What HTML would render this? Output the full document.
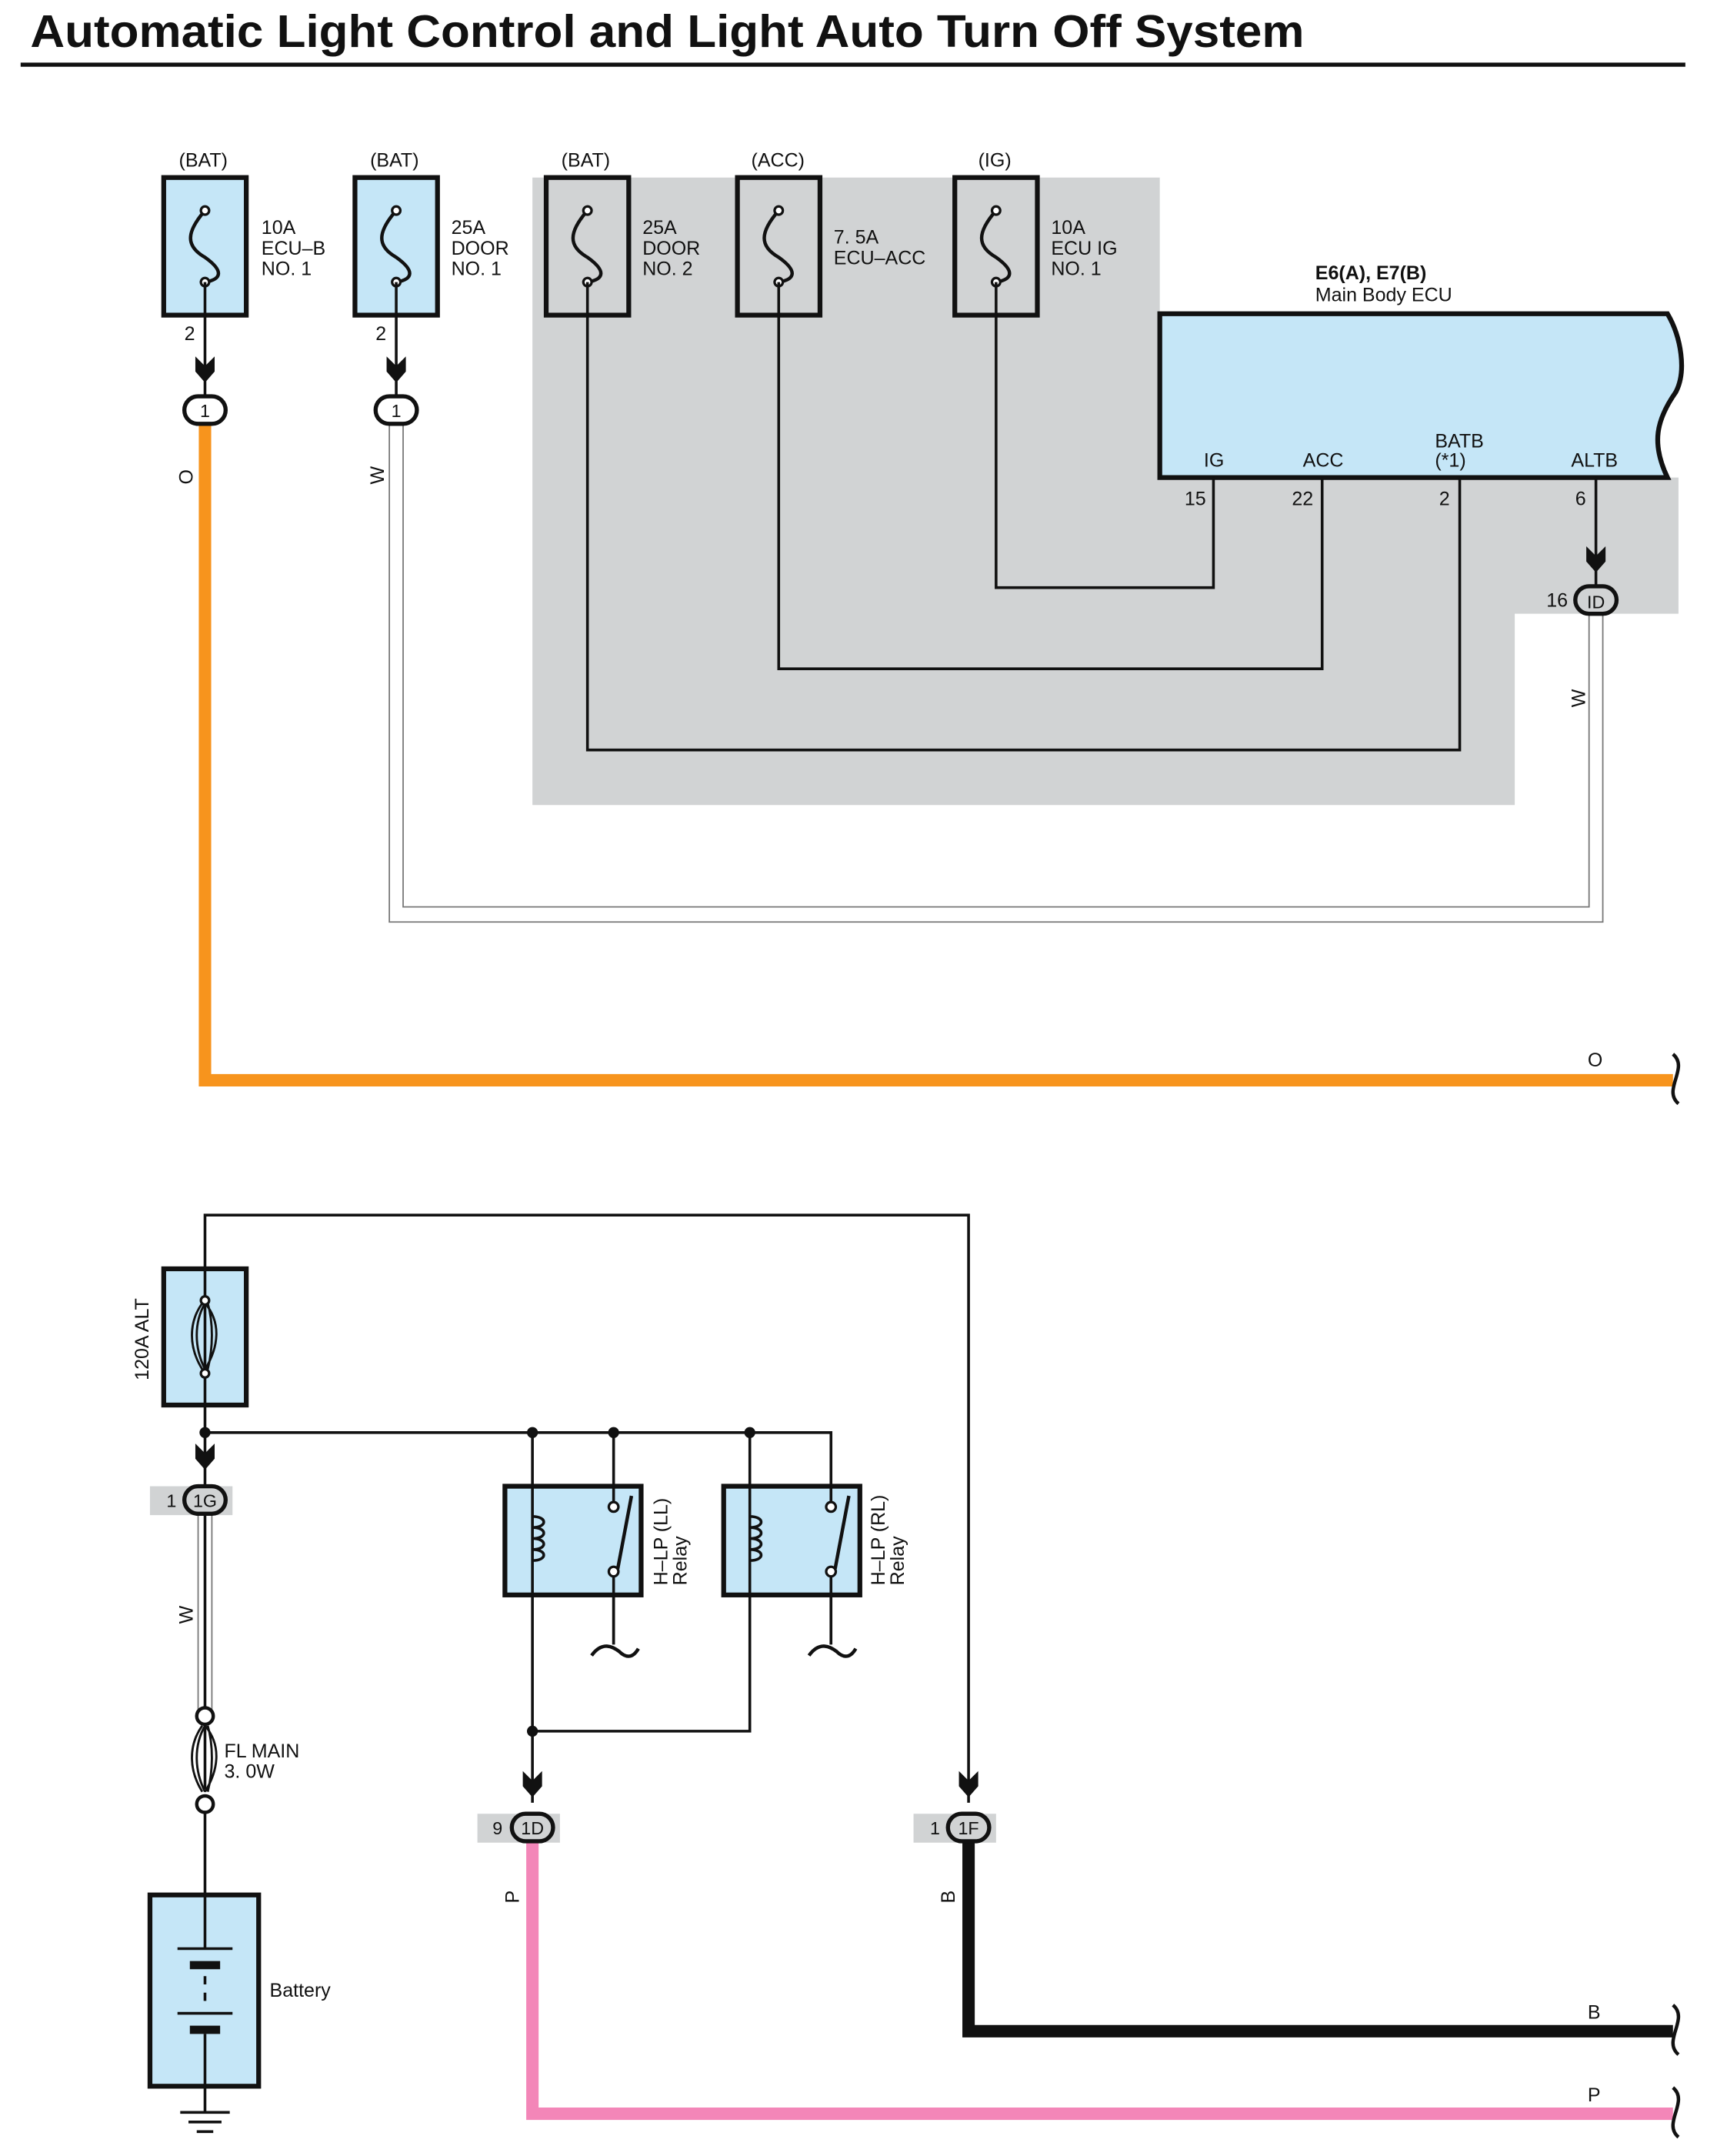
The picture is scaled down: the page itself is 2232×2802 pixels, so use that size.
<!DOCTYPE html>
<html><head><meta charset="utf-8"><style>
html,body{margin:0;padding:0;background:#fff;}
svg{display:block;}
text{font-family:"Liberation Sans",sans-serif;fill:#111;}
</style></head><body>
<svg width="2232" height="2802" viewBox="0 0 1248 1566.7" preserveAspectRatio="none" xmlns="http://www.w3.org/2000/svg">
<defs>
<g id="fs">
 <path d="M0,-24 C-14,-8 -14,2 0,10 C14,20 12,26 0,28" fill="none" stroke="#111" stroke-width="2.5" transform="translate(0,-2)"/>
 <circle cx="0" cy="-26" r="3" fill="#fff" stroke="#111" stroke-width="1.8"/>
 <circle cx="0" cy="26" r="3" fill="#fff" stroke="#111" stroke-width="1.8"/>
</g>
<g id="arr"><polygon points="-7,-31 0,-24 7,-31 7,-20 0,-12 -7,-20" fill="#111"/></g>
<g id="fl">
 <path d="M-2,-24 C-12,-10 -12,8 -2,24 M0,-24 C-8,-10 -8,8 0,24 M2,-24 C6,-10 6,8 2,24 M0,-24 C12,-10 10,8 0,24" fill="none" stroke="#111" stroke-width="1.6"/>
</g>
</defs>
<text x="22" y="34" font-size="33" font-weight="bold" textLength="926" lengthAdjust="spacingAndGlyphs">Automatic Light Control and Light Auto Turn Off System</text>
<line x1="15" y1="47" x2="1225" y2="47" stroke="#111" stroke-width="3"/>

<polygon points="387,129 843,129 843,347 1220,347 1220,446 1101,446 1101,585 387,585" fill="#d1d3d4"/>

<g font-size="14">
<text x="130" y="121">(BAT)</text><text x="269" y="121">(BAT)</text><text x="408" y="121">(BAT)</text><text x="546" y="121">(ACC)</text><text x="711" y="121">(IG)</text>
<text x="190" y="170">10A</text><text x="190" y="185">ECU–B</text><text x="190" y="200">NO. 1</text>
<text x="328" y="170">25A</text><text x="328" y="185">DOOR</text><text x="328" y="200">NO. 1</text>
<text x="467" y="170">25A</text><text x="467" y="185">DOOR</text><text x="467" y="200">NO. 2</text>
<text x="606" y="177">7. 5A</text><text x="606" y="192">ECU–ACC</text>
<text x="764" y="170">10A</text><text x="764" y="185">ECU IG</text><text x="764" y="200">NO. 1</text>
<text x="134" y="247">2</text><text x="273" y="247">2</text>
</g>
<g stroke="#111" stroke-width="3.5">
<rect x="119" y="129" width="60" height="100" fill="#c5e6f7"/>
<rect x="258" y="129" width="60" height="100" fill="#c5e6f7"/>
<rect x="397" y="129" width="60" height="100" fill="none"/>
<rect x="536" y="129" width="60" height="100" fill="none"/>
<rect x="694" y="129" width="60" height="100" fill="none"/>
</g>
<use href="#fs" x="149" y="179"/><use href="#fs" x="288" y="179"/><use href="#fs" x="427" y="179"/><use href="#fs" x="566" y="179"/><use href="#fs" x="724" y="179"/>

<text x="956" y="203" font-size="14" font-weight="bold">E6(A), E7(B)</text>
<text x="956" y="219" font-size="14">Main Body ECU</text>
<path d="M843,228 L1212,228 C1222,245 1226,270 1218,285 C1204,305 1200,322 1212,347 L843,347 Z" fill="#c5e6f7" stroke="#111" stroke-width="3.5"/>
<g font-size="14">
<text x="875" y="339">IG</text><text x="947" y="339">ACC</text><text x="1043" y="325">BATB</text><text x="1043" y="339">(*1)</text><text x="1142" y="339">ALTB</text>
<text x="861" y="367">15</text><text x="939" y="367">22</text><text x="1046" y="367">2</text><text x="1145" y="367">6</text>
<text x="1124" y="441">16</text>
</g>
<g fill="none" stroke="#111" stroke-width="2">
<polyline points="149,205 149,290"/><polyline points="288,205 288,290"/>
<polyline points="882,347 882,427 724,427 724,205"/>
<polyline points="961,347 961,486 566,486 566,205"/>
<polyline points="1061,347 1061,545 427,545 427,205"/>
<polyline points="1160,347 1160,428"/>
</g>
<use href="#arr" x="149" y="290"/><use href="#arr" x="288" y="290"/><use href="#arr" x="1160" y="428"/>

<polyline points="283,306 283,670 1165,670 1165,446" fill="none" stroke="#777" stroke-width="1"/>
<polyline points="293,306 293,659 1155,659 1155,446" fill="none" stroke="#777" stroke-width="1"/>
<text x="0" y="0" font-size="14" transform="translate(279,352) rotate(-90)">W</text>
<text x="0" y="0" font-size="14" transform="translate(1152,514) rotate(-90)">W</text>

<polyline points="149,306 149,785 1216,785" fill="none" stroke="#f7941d" stroke-width="9"/>
<text x="0" y="0" font-size="14" transform="translate(140,352) rotate(-90)">O</text>
<text x="1154" y="775" font-size="14">O</text>
<path d="M1216,766 C1228,776 1208,792 1220,802" fill="none" stroke="#111" stroke-width="2.5"/>

<g stroke="#111" stroke-width="3">
<rect x="134" y="288" width="30" height="20" rx="10" fill="#fff"/>
<rect x="273" y="288" width="30" height="20" rx="10" fill="#fff"/>
<rect x="1145" y="426" width="30" height="20" rx="10" fill="#d1d3d4"/>
</g>
<g font-size="13" text-anchor="middle"><text x="149" y="303">1</text><text x="288" y="303">1</text><text x="1160" y="442">ID</text></g>

<g fill="none" stroke="#111" stroke-width="2">
<polyline points="149,1300 149,883 704,883 704,1310"/>
<polyline points="149,1041 604,1041 604,1195"/>
<polyline points="387,1041 387,1310"/>
<polyline points="446,1041 446,1195"/>
<polyline points="545,1041 545,1258 387,1258"/>
<polyline points="149,1312 149,1377"/>
<polyline points="149,1516 149,1535"/>
</g>
<g fill="#111"><circle cx="149" cy="1041" r="4"/><circle cx="387" cy="1041" r="4"/><circle cx="446" cy="1041" r="4"/><circle cx="545" cy="1041" r="4"/><circle cx="387" cy="1258" r="4"/></g>
<rect x="119" y="922" width="60" height="99" fill="#c5e6f7" stroke="#111" stroke-width="3.5"/>
<line x1="149" y1="922" x2="149" y2="1021" stroke="#111" stroke-width="2"/>
<use href="#fl" x="149" y="971"/>
<circle cx="149" cy="945" r="3" fill="#fff" stroke="#111" stroke-width="1.8"/>
<circle cx="149" cy="998" r="3" fill="#fff" stroke="#111" stroke-width="1.8"/>
<text x="0" y="0" font-size="14" transform="translate(108,1003) rotate(-90)">120A ALT</text>

<g stroke="#111" stroke-width="3.5" fill="#c5e6f7">
<rect x="367" y="1080" width="99" height="79"/>
<rect x="526" y="1080" width="99" height="79"/>
</g>
<g fill="none" stroke="#111" stroke-width="2">
<line x1="387" y1="1080" x2="387" y2="1159"/><line x1="545" y1="1080" x2="545" y2="1159"/>
<path d="M387,1102 C398,1102 398,1110 387,1110 M387,1110 C398,1110 398,1118 387,1118 M387,1118 C398,1118 398,1126 387,1126 M387,1126 C398,1126 398,1134 387,1134"/>
<path d="M545,1102 C556,1102 556,1110 545,1110 M545,1110 C556,1110 556,1118 545,1118 M545,1118 C556,1118 556,1126 545,1126 M545,1126 C556,1126 556,1134 545,1134"/>
<line x1="446" y1="1080" x2="446" y2="1093"/><line x1="446" y1="1143" x2="446" y2="1195"/>
<line x1="604" y1="1080" x2="604" y2="1093"/><line x1="604" y1="1143" x2="604" y2="1195"/>
<line x1="449" y1="1140" x2="459" y2="1087" stroke-width="2.5"/>
<line x1="607" y1="1140" x2="617" y2="1087" stroke-width="2.5"/>
<path d="M430,1203 C438,1192 446,1197 450,1200 C455,1205 460,1205 464,1198" stroke-width="2.5"/>
<path d="M588,1203 C596,1192 604,1197 608,1200 C613,1205 618,1205 622,1198" stroke-width="2.5"/>
</g>
<g fill="#fff" stroke="#111" stroke-width="1.8">
<circle cx="446" cy="1095" r="3.5"/><circle cx="446" cy="1142" r="3.5"/><circle cx="604" cy="1095" r="3.5"/><circle cx="604" cy="1142" r="3.5"/>
</g>
<g font-size="14">
<text transform="translate(485,1152) rotate(-90)">H–LP (LL)</text><text transform="translate(499,1152) rotate(-90)">Relay</text>
<text transform="translate(643,1152) rotate(-90)">H–LP (RL)</text><text transform="translate(657,1152) rotate(-90)">Relay</text>
</g>

<rect x="109" y="1080" width="60" height="21" fill="#d1d3d4"/>
<rect x="347" y="1318" width="60" height="21" fill="#d1d3d4"/>
<rect x="664" y="1318" width="60" height="21" fill="#d1d3d4"/>
<polyline points="144,1100 144,1245" fill="none" stroke="#777" stroke-width="1"/>
<polyline points="154,1100 154,1245" fill="none" stroke="#777" stroke-width="1"/>
<text transform="translate(140,1180) rotate(-90)" font-size="14">W</text>
<polyline points="387,1338 387,1536 1216,1536" fill="none" stroke="#f386b8" stroke-width="9"/>
<polyline points="704,1338 704,1476 1216,1476" fill="none" stroke="#111" stroke-width="9"/>
<text transform="translate(377,1383) rotate(-90)" font-size="14">P</text>
<text transform="translate(694,1383) rotate(-90)" font-size="14">B</text>
<text x="1154" y="1467" font-size="14">B</text><text x="1154" y="1527" font-size="14">P</text>
<path d="M1216,1457 C1228,1467 1208,1483 1220,1493" fill="none" stroke="#111" stroke-width="2.5"/>
<path d="M1216,1517 C1228,1527 1208,1543 1220,1553" fill="none" stroke="#111" stroke-width="2.5"/>
<use href="#arr" x="149" y="1080"/><use href="#arr" x="387" y="1318"/><use href="#arr" x="704" y="1318"/>
<g stroke="#111" stroke-width="3" fill="#d1d3d4">
<rect x="134" y="1080" width="30" height="20" rx="10"/>
<rect x="372" y="1318" width="30" height="20" rx="10"/>
<rect x="689" y="1318" width="30" height="20" rx="10"/>
</g>
<g font-size="13"><text x="121" y="1095">1</text><text x="358" y="1333">9</text><text x="676" y="1333">1</text></g>
<g font-size="13" text-anchor="middle"><text x="149" y="1095">1G</text><text x="387" y="1333">1D</text><text x="704" y="1333">1F</text></g>

<use href="#fl" x="149" y="1278"/>
<g fill="#fff" stroke="#111" stroke-width="2.5"><circle cx="149" cy="1247" r="6"/><circle cx="149" cy="1311" r="6"/></g>
<text x="163" y="1277" font-size="14">FL MAIN</text><text x="163" y="1292" font-size="14">3. 0W</text>

<rect x="109" y="1377" width="79" height="139" fill="#c5e6f7" stroke="#111" stroke-width="3.5"/>
<g stroke="#111">
<line x1="149" y1="1377" x2="149" y2="1416" stroke-width="2"/>
<line x1="129" y1="1416" x2="169" y2="1416" stroke-width="2"/>
<line x1="138" y1="1428" x2="160" y2="1428" stroke-width="6"/>
<line x1="149" y1="1436" x2="149" y2="1442" stroke-width="2"/>
<line x1="149" y1="1448" x2="149" y2="1454" stroke-width="2"/>
<line x1="129" y1="1463" x2="169" y2="1463" stroke-width="2"/>
<line x1="138" y1="1475" x2="160" y2="1475" stroke-width="6"/>
<line x1="149" y1="1478" x2="149" y2="1516" stroke-width="2"/>
<line x1="131" y1="1535" x2="167" y2="1535" stroke-width="2"/>
<line x1="137" y1="1542" x2="161" y2="1542" stroke-width="2"/>
<line x1="143" y1="1549" x2="155" y2="1549" stroke-width="2"/>
</g>
<text x="196" y="1451" font-size="14">Battery</text>
</svg>
</body></html>
